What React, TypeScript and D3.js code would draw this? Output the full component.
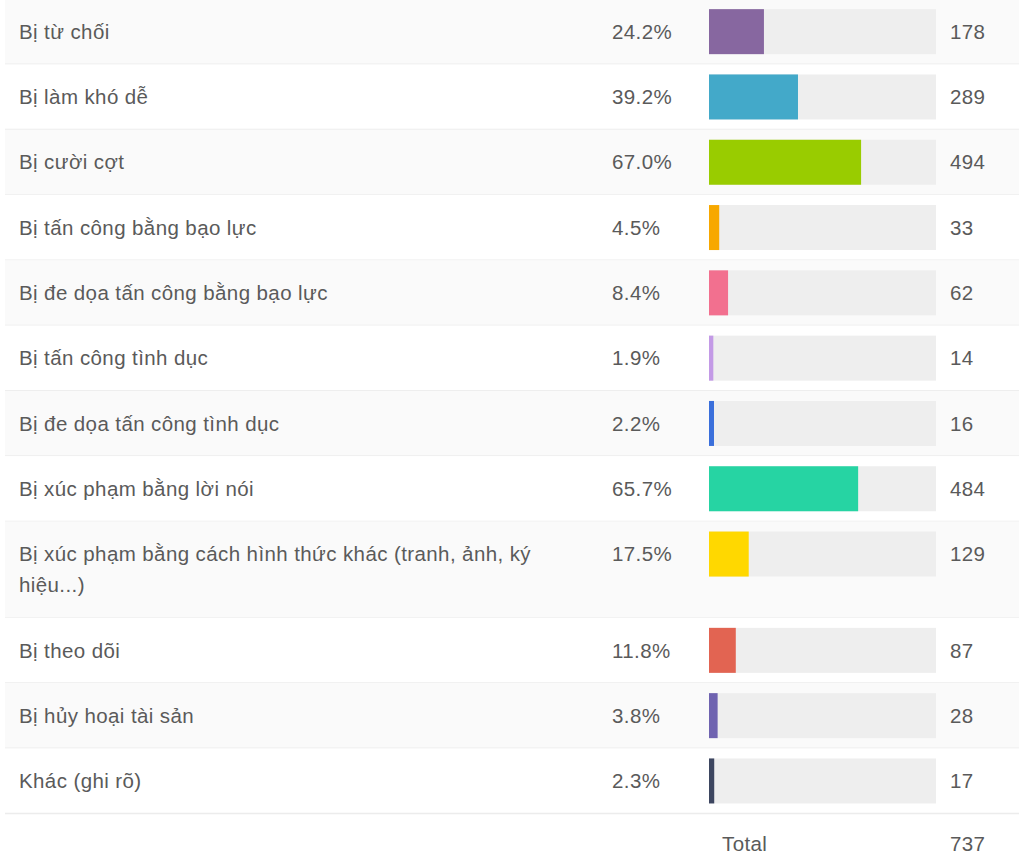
import React from "react";
import * as d3 from "d3";

const categories: string[] = [
  "Bị từ chối",
  "Bị làm khó dễ",
  "Bị cười cợt",
  "Bị tấn công bằng bạo lực",
  "Bị đe dọa tấn công bằng bạo lực",
  "Bị tấn công tình dục",
  "Bị đe dọa tấn công tình dục",
  "Bị xúc phạm bằng lời nói",
  "Bị xúc phạm bằng cách hình thức khác (tranh, ảnh, ký hiệu...)",
  "Bị theo dõi",
  "Bị hủy hoại tài sản",
  "Khác (ghi rõ)",
];
const percents: number[] = [24.2, 39.2, 67.0, 4.5, 8.4, 1.9, 2.2, 65.7, 17.5, 11.8, 3.8, 2.3];
const counts: number[] = [178, 289, 494, 33, 62, 14, 16, 484, 129, 87, 28, 17];
const colors: string[] = [
  "#8767a0", "#43a9c9", "#99cc00", "#f7a800", "#f2708f", "#c39ae6",
  "#3a6fdb", "#26d4a3", "#ffd800", "#e26452", "#6f63b0", "#3d4660",
];
const totalLabel = "Total";
const totalValue = 737;

const W = 1026;
const H = 867;
const FONT = "'Liberation Sans', Arial, Helvetica, sans-serif";
const FS = 20.5;
const LS = 0.4;
const TEXT = "#5a5a5a";
const ROW_H = 65.3;
const LINE_H = 31;
const LABEL_MAX = 545;

function wrap(text: string, maxW: number): string[] {
  const c = document.createElement("canvas").getContext("2d")!;
  c.font = `${FS}px ${FONT}`;
  const m = (s: string) => c.measureText(s).width + s.length * LS;
  const words = text.split(" ");
  const lines: string[] = [];
  let cur = "";
  for (const w of words) {
    const t = cur ? cur + " " + w : w;
    if (m(t) > maxW && cur) {
      lines.push(cur);
      cur = w;
    } else cur = t;
  }
  if (cur) lines.push(cur);
  return lines;
}

export default function App() {
  const x = d3.scaleLinear().domain([0, 100]).range([709, 936]);
  const wrapped = categories.map((c) => wrap(c, LABEL_MAX));
  const heights = wrapped.map((l) => ROW_H + (l.length - 1) * LINE_H);
  const tops: number[] = [];
  let acc = -1;
  heights.forEach((h) => {
    tops.push(acc);
    acc += h;
  });
  const totalTop = acc;

  return (
    <svg
      width={W}
      height={H}
      style={{ position: "absolute", left: 0, top: 0, background: "#fff", letterSpacing: `${LS}px` }}
      fontFamily={FONT}
      fontSize={FS}
    >
      <rect x={0} y={0} width={W} height={H} fill="#fff" />
      {categories.map((c, i) => {
        const top = tops[i];
        const h = heights[i];
        const cy = top + ROW_H / 2;
        return (
          <g key={c}>
            <rect x={5} y={top} width={1014} height={h} fill={i % 2 === 0 ? "#fafafa" : "#ffffff"} />
            <line x1={5} x2={1019} y1={top + h} y2={top + h} stroke="#ececec" strokeWidth={1.5} />
            {wrapped[i].map((ln, j) => (
              <text key={j} x={19} y={cy + j * LINE_H} dy="0.35em" fill={TEXT}>
                {ln}
              </text>
            ))}
            <text x={612} y={cy} dy="0.35em" fill={TEXT}>
              {d3.format(".1f")(percents[i])}%
            </text>
            <rect x={x(0)} y={cy - 22.5} width={x(100) - x(0)} height={45} fill="#eeeeee" />
            <rect
              x={x(0)}
              y={cy - 22.5}
              width={Math.max(x(percents[i]) - x(0), 4)}
              height={45}
              fill={colors[i]}
            />
            <text x={950} y={cy} dy="0.35em" fill={TEXT}>
              {counts[i]}
            </text>
          </g>
        );
      })}
      <text x={722} y={totalTop + 30} dy="0.35em" fill={TEXT}>
        {totalLabel}
      </text>
      <text x={950} y={totalTop + 30} dy="0.35em" fill={TEXT}>
        {totalValue}
      </text>
    </svg>
  );
}
